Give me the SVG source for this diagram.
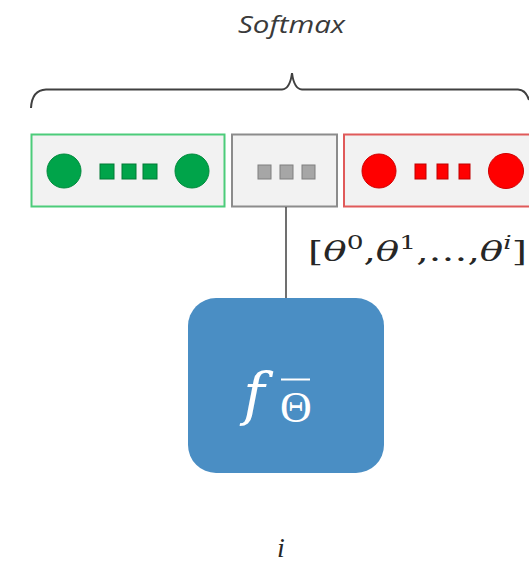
<svg xmlns="http://www.w3.org/2000/svg" width="529" height="563" viewBox="0 0 529 563">
<style>
.t{font-family:"Open Sans","Liberation Sans",sans-serif;font-style:italic;fill:#3a3a3a}
.m{font-family:"DejaVu Serif","Liberation Serif",serif;fill:#262626}
.conn{stroke:#404040;stroke-width:1.5;fill:none}
.gc{fill:#00a44a;stroke:#008a3c;stroke-width:1}
.gs{fill:#00a44a;stroke:#007a35;stroke-width:1}
.rc{fill:#ff0000;stroke:#d00000;stroke-width:1}
.rs{fill:#ff0000;stroke:#c00000;stroke-width:1}
.ys{fill:#a6a6a6;stroke:#7f7f7f;stroke-width:1}
</style>
<rect width="529" height="563" fill="#ffffff"/>
<g id="softmax">
<text class="t" x="238" y="33" font-size="24" textLength="107" lengthAdjust="spacingAndGlyphs">Softmax</text>
<path d="M31,108 Q32,90 46,89.5 L282,89.5 Q290,89 292,73 Q294,89 302,89.5 L518,89.5 Q526,90 529,100" fill="none" stroke="#404040" stroke-width="2"/>
</g>
<g id="green-box">
<rect x="31.5" y="134.5" width="193" height="72" fill="#f2f2f2" stroke="#4ccc7a" stroke-width="2"/>
<circle class="gc" cx="64" cy="171" r="17"/>
<rect class="gs" x="100" y="164" width="14" height="15"/>
<rect class="gs" x="122" y="164" width="14" height="15"/>
<rect class="gs" x="143" y="164" width="14" height="15"/>
<circle class="gc" cx="192" cy="171" r="17"/>
</g>
<g id="gray-box">
<rect x="232" y="134.5" width="105" height="72" fill="#f2f2f2" stroke="#8c8c8c" stroke-width="2"/>
<rect class="ys" x="258" y="165" width="13" height="14"/>
<rect class="ys" x="280" y="165" width="13" height="14"/>
<rect class="ys" x="302" y="165" width="13" height="14"/>
</g>
<g id="red-box">
<rect x="344" y="134.5" width="200" height="72" fill="#f2f2f2" stroke="#e05a5a" stroke-width="2"/>
<circle class="rc" cx="379" cy="171" r="17"/>
<rect class="rs" x="415" y="164" width="11" height="15"/>
<rect class="rs" x="437" y="164" width="11" height="15"/>
<rect class="rs" x="459" y="164" width="11" height="15"/>
<circle class="rc" cx="506" cy="171" r="17.5"/>
</g>
<g id="connectors">
<line class="conn" x1="286" y1="207" x2="286" y2="298"/>
</g>
<g id="theta-label">
<text class="m" x="308" y="261" font-size="28" textLength="219" lengthAdjust="spacingAndGlyphs">[<tspan font-style="italic">θ</tspan><tspan font-size="19" dy="-12">0</tspan><tspan dy="12">,</tspan><tspan font-style="italic">θ</tspan><tspan font-size="19" dy="-12">1</tspan><tspan dy="12">,…,</tspan><tspan font-style="italic">θ</tspan><tspan font-size="19" font-style="italic" dy="-12">i</tspan><tspan dy="12">]</tspan></text>
</g>
<g id="f-node">
<rect x="188" y="298" width="196" height="175" rx="28" ry="28" fill="#4a8ec4"/>
<text x="254" y="414" font-family="DejaVu Serif,Liberation Serif,serif" font-style="italic" font-size="58" fill="#ffffff" text-anchor="middle">f</text>
<line x1="281" y1="379.5" x2="310" y2="379.5" stroke="#ffffff" stroke-width="2"/>
<text x="296" y="422" font-family="Liberation Serif,DejaVu Serif,serif" font-size="44" fill="#ffffff" text-anchor="middle">Θ</text>
</g>
<g id="i-label">
<text x="281" y="557" font-family="Liberation Serif,DejaVu Serif,serif" font-style="italic" font-size="28" fill="#262626" text-anchor="middle">i</text>
</g>
</svg>
